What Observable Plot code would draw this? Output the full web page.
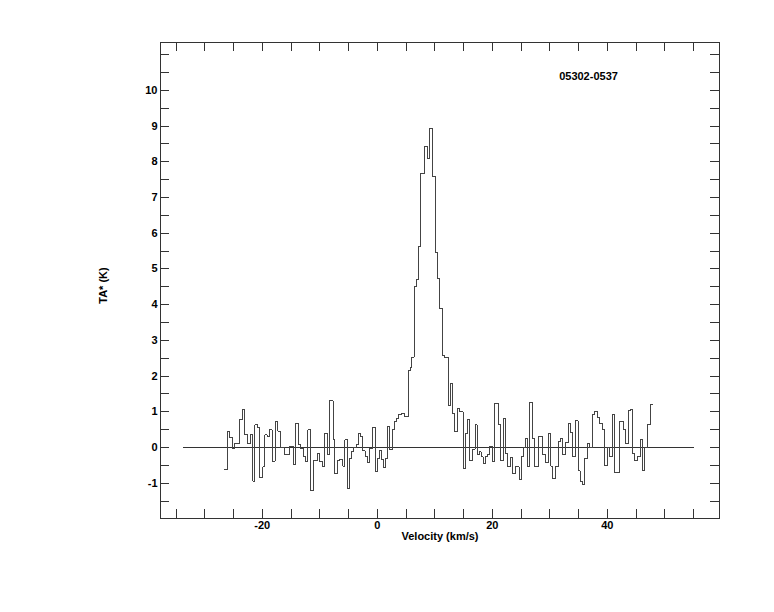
<!DOCTYPE html>
<html>
<head>
<meta charset="utf-8">
<script src="https://cdn.jsdelivr.net/npm/d3@7"></script>
<script src="https://cdn.jsdelivr.net/npm/@observablehq/plot@0.6"></script>
<style>
  html, body { margin: 0; padding: 0; background: #fff; }
  #chart { width: 774px; height: 612px; }
</style>
</head>
<body>
<div id="chart"></div>
<script>
// Channel left edges (km/s) and antenna temperature TA* (K)
const velocity = [
  -26.61, -26.03, -25.69, -25.10, -24.75, -24.05, -23.48, -23.01, -22.56, -22.09,
  -21.62, -21.27, -20.82, -20.47, -19.88, -19.53, -19.18, -18.73, -18.26, -17.79,
  -17.34, -16.87, -16.17, -15.25, -14.56, -14.21, -13.62, -13.27, -12.82, -12.47,
  -12.09, -11.57, -11.04, -10.38, -10.00, -9.57, -9.22, -8.64, -8.30, -7.70,
  -7.36, -6.90, -6.56, -5.97, -5.62, -5.17, -4.82, -4.47, -4.12, -3.65,
  -3.30, -2.96, -2.61, -2.14, -1.69, -1.34, -0.87, -0.40, -0.05, 0.40,
  0.75, 1.10, 1.51, 1.83, 2.17, 2.61, 2.96, 3.30, 3.65, 4.17,
  4.78, 5.36, 5.70, 6.03, 6.38, 6.83, 7.18, 7.53, 8.23, 8.70,
  9.04, 9.62, 10.09, 10.43, 10.78, 11.36, 11.70, 12.30, 12.64, 13.10,
  13.44, 13.91, 14.31, 14.90, 15.25, 15.60, 16.05, 16.52, 16.99, 17.34,
  17.69, 18.03, 18.38, 18.73, 19.18, 19.53, 20.00, 20.35, 21.04, 21.39,
  21.86, 22.21, 22.66, 23.13, 23.48, 23.95, 24.64, 24.99, 25.44, 25.79,
  26.14, 26.49, 26.96, 27.30, 28.05, 28.75, 29.22, 29.69, 30.14, 30.49,
  30.96, 31.43, 31.77, 32.23, 32.70, 33.17, 33.51, 33.97, 34.43, 34.90,
  35.25, 35.70, 36.05, 36.52, 36.87, 37.44, 37.79, 38.26, 38.61, 39.08,
  39.53, 40.00, 40.35, 40.92, 41.27, 42.09, 42.78, 43.13, 43.60, 43.95,
  44.40, 44.75, 45.22, 45.69, 46.14, 46.49, 46.96, 47.43, 47.88
];
const ta = [
  -0.61, 0.46, 0.27, -0.03, 0.11, 0.77, 1.05, 0.35, 0.11, 0.36,
  -0.94, 0.64, 0.55, -0.85, -0.54, 0.35, 0.32, 0.49, -0.38, 0.74,
  0.46, 0.00, -0.21, 0.04, -0.48, 0.67, 0.07, -0.03, -0.26, -0.40,
  0.49, -1.20, -0.37, -0.17, -0.40, -0.54, 0.39, -0.21, 1.31, 0.22,
  -0.73, -0.36, -0.34, -0.52, 0.22, -1.15, -0.31, -0.12, 0.00, 0.07,
  0.39, 0.30, -0.09, -0.26, -0.43, -0.03, 0.56, -0.68, -0.31, -0.09,
  -0.34, -0.56, -0.31, 0.60, -0.06, 0.49, 0.72, 0.81, 0.93, 0.95,
  0.86, 2.15, 2.24, 2.52, 4.52, 4.71, 5.64, 7.68, 8.44, 8.09,
  8.94, 7.58, 5.45, 4.73, 3.89, 2.58, 2.52, 1.17, 1.79, 0.95,
  0.44, 1.09, 1.00, -0.59, 0.39, 0.79, -0.37, -0.05, 0.63, -0.21,
  -0.12, -0.26, -0.45, -0.24, -0.21, 0.02, -0.40, 1.23, 0.63, -0.37,
  0.81, -0.17, -0.54, -0.28, -0.73, -0.54, -0.91, -0.24, 0.00, 0.25,
  -0.54, 1.26, 0.25, -0.52, 0.30, -0.21, -0.43, 0.39, -0.52, -0.87,
  -0.54, 0.16, 0.25, -0.21, 0.14, 0.67, 0.41, -0.26, 0.75, -0.65,
  -0.96, -1.03, -0.31, 0.11, 0.00, 0.91, 1.00, 0.84, 0.67, 0.49,
  -0.50, 0.00, -0.24, 0.91, -0.71, 0.72, 0.50, 0.11, 1.03, 1.07,
  -0.17, -0.36, -0.26, 0.21, -0.65, 0.00, 0.63, 1.21, 1.21
];

const xDomain = [-37.7, 59.5];
const yDomain = [-1.99, 11.34];
const baselineRange = [-33.7, 55.1];
const xMajorTicks = [-20, 0, 20, 40];
const xMinorTicks = [-35, -30, -25, -20, -15, -10, -5, 0, 5, 10, 15, 20, 25, 30, 35, 40, 45, 50, 55];
const yMajorTicks = [-1, 0, 1, 2, 3, 4, 5, 6, 7, 8, 9, 10];
const yMinorTicks = [-1.5, -1, -0.5, 0, 0.5, 1, 1.5, 2, 2.5, 3, 3.5, 4, 4.5, 5, 5.5, 6, 6.5, 7, 7.5, 8, 8.5, 9, 9.5, 10, 10.5, 11];
const sourceName = "05302-0537";
const xLabel = "Velocity (km/s)";
const yLabel = "TA* (K)";

const spectrum = velocity.map((v, i) => ({v, t: ta[i]}));

const W = 774, H = 612;
const mL = 160, mR = 55, mT = 42, mB = 94;
const fw = W - mL - mR, fh = H - mT - mB;
const tick = 9;

const chart = Plot.plot({
  width: W,
  height: H,
  marginLeft: mL,
  marginRight: mR,
  marginTop: mT,
  marginBottom: mB,
  style: {fontFamily: "'Liberation Sans', Arial, sans-serif", fontSize: "11px", fontWeight: "bold", color: "#000", background: "#fff"},
  x: {domain: xDomain},
  y: {domain: yDomain},
  marks: [
    Plot.ruleY([0], {x1: baselineRange[0], x2: baselineRange[1], stroke: "#333", strokeWidth: 1, shapeRendering: "crispEdges"}),
    Plot.line(spectrum, {x: "v", y: "t", curve: "step-after", stroke: "#444", strokeWidth: 1, shapeRendering: "crispEdges"}),
    // inward ticks on all four sides
    Plot.tickX(xMinorTicks, {x: d => d, insetTop: fh - tick, stroke: "#333", shapeRendering: "crispEdges"}),
    Plot.tickX(xMinorTicks, {x: d => d, insetBottom: fh - tick, stroke: "#333", shapeRendering: "crispEdges"}),
    Plot.tickY(yMinorTicks, {y: d => d, insetRight: fw - tick, stroke: "#333", shapeRendering: "crispEdges"}),
    Plot.tickY(yMinorTicks, {y: d => d, insetLeft: fw - tick, stroke: "#333", shapeRendering: "crispEdges"}),
    Plot.axisX(xMajorTicks, {anchor: "bottom", tickSize: 0, tickPadding: 3, label: null, tickFormat: d => String(d)}),
    Plot.axisY(yMajorTicks, {anchor: "left", tickSize: 0, tickPadding: 3, label: null, tickFormat: d => String(d)}),
    Plot.frame({stroke: "#333", strokeWidth: 1, shapeRendering: "crispEdges"}),
    Plot.text([xLabel], {frameAnchor: "bottom", dy: 18, lineAnchor: "middle", textAnchor: "middle", fontWeight: "bold", fontSize: 11}),
    Plot.text([yLabel], {frameAnchor: "left", dx: -57, dy: 5, rotate: -90, lineAnchor: "middle", textAnchor: "middle", fontWeight: "bold", fontSize: 11}),
    Plot.text([sourceName], {frameAnchor: "top-right", dx: -131, dy: 34, lineAnchor: "middle", textAnchor: "middle", fontWeight: "bold", fontSize: 11})
  ]
});
document.getElementById("chart").appendChild(chart);
</script>
</body>
</html>
